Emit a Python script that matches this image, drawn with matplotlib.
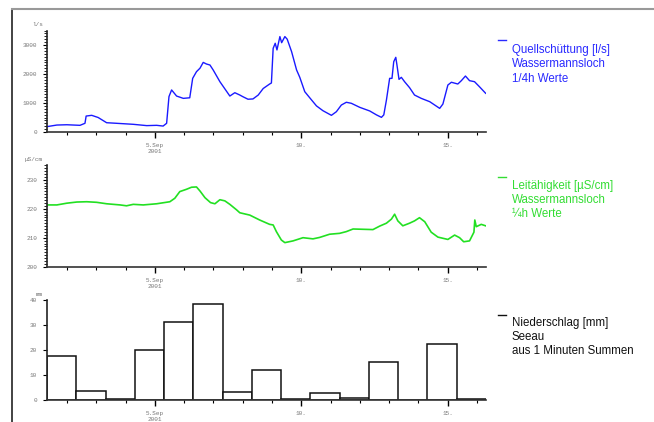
import numpy as np
import pandas as pd
import matplotlib
matplotlib.use("Agg")
import matplotlib.pyplot as plt
import matplotlib.dates as mdates
from matplotlib.lines import Line2D
from matplotlib.ticker import FixedLocator, FixedFormatter, MultipleLocator

# Quellschuettung Wassermannsloch [l/s], x = day of September 2001
q_day = [1.31, 1.65, 1.99, 2.44, 2.61, 2.65, 2.84, 3.06, 3.35, 3.69, 4.26, 4.72,
         5.06, 5.28, 5.40, 5.48, 5.57, 5.74, 5.97, 6.19, 6.29, 6.42, 6.54, 6.65,
         6.76, 6.88, 6.99, 7.22, 7.56, 7.73, 7.90, 8.00, 8.18, 8.35, 8.53, 8.70,
         8.92, 8.98, 9.04, 9.11, 9.17, 9.27, 9.33, 9.44, 9.52, 9.67, 9.84, 9.95,
         10.12, 10.29, 10.52, 10.74, 11.03, 11.20, 11.37, 11.54, 11.71, 12.00,
         12.34, 12.57, 12.74, 12.82, 12.91, 13.02, 13.10, 13.16, 13.23, 13.27,
         13.34, 13.42, 13.53, 13.70, 13.87, 14.10, 14.39, 14.73, 14.84, 15.01,
         15.13, 15.35, 15.47, 15.61, 15.75, 15.92, 16.09, 16.30]
q_val = [185, 240, 250, 230, 300, 550, 575, 500, 320, 300, 265, 220,
         230, 205, 300, 1220, 1450, 1240, 1160, 1180, 1850, 2080, 2200, 2400,
         2345, 2310, 2140, 1735, 1240, 1355, 1275, 1220, 1130, 1140, 1275, 1500,
         1655, 1690, 2885, 3060, 2830, 3290, 3080, 3290, 3200, 2770, 2140, 1885,
         1390, 1180, 900, 735, 575, 700,
         930, 1025, 990, 850,
         725, 590, 505, 590, 1100, 1850, 1850, 2425, 2575, 2310,
         1815, 1885, 1735, 1530, 1275, 1160, 1045, 815, 965, 1620,
         1715, 1655, 1770, 1930, 1770, 1735, 1560, 1335]

# Leitfaehigkeit Wassermannsloch [uS/cm]
lf_day = [1.31, 1.65, 1.99, 2.33, 2.67, 3.01, 3.35, 3.81, 4.03, 4.26, 4.60, 5.06,
          5.51, 5.68, 5.85, 6.08, 6.25, 6.42, 6.54, 6.71, 6.90, 7.05, 7.22, 7.39,
          7.56, 7.79, 7.90, 8.24, 8.58, 8.92, 9.04, 9.15, 9.32, 9.44, 9.72, 10.06,
          10.40, 10.63, 10.97, 11.31, 11.54, 11.77, 12.11, 12.45, 12.68, 12.91,
          13.08, 13.19, 13.30, 13.47, 13.70, 13.87, 14.04, 14.22, 14.44, 14.67,
          15.01, 15.24, 15.41, 15.55, 15.75, 15.90, 15.93, 15.98, 16.15, 16.30]
lf_val = [221.3, 221.3, 221.9, 222.3, 222.4, 222.2, 221.7, 221.3, 221.0, 221.5, 221.3, 221.7,
          222.4, 223.6, 225.9, 226.7, 227.4, 227.5, 226.1, 223.8, 222.1, 221.7, 223.1, 222.7,
          221.5, 219.6, 218.6, 217.8, 216.1, 214.6, 214.4, 212.1, 209.2, 208.3, 208.9, 210.0,
          209.6, 210.1, 211.2, 211.5, 212.1, 213.0, 212.9, 212.8, 214.0, 215.0,
          216.4, 218.1, 215.8, 214.1, 215.0, 215.8, 216.9, 215.5, 211.9, 210.2,
          209.4, 210.9, 210.0, 208.6, 208.9, 211.9, 216.1, 213.8, 214.6, 214.1]

# Niederschlag Seeau, Tagessummen [mm] (Tag ab 07:30)
rain_day = [1, 2, 3, 4, 5, 6, 7, 8, 9, 10, 11, 12, 13, 14, 15]
rain_mm = [17.8, 3.6, 0.3, 20.2, 31.4, 38.4, 3.3, 12.0, 0.6, 2.7, 0.9, 15.4, 0.2, 22.6, 0.5]

date_ticks = [5, 10, 15]
date_labels = ["5.Sep\n2001", "10.", "15."]

base = pd.Timestamp("2001-09-01")


def to_num(days):
    return mdates.date2num(base + pd.to_timedelta(np.asarray(days, dtype=float) - 1, unit="D"))


day_offset = 7.5 / 24
xmin, xmax = to_num([1 + day_offset, 16 + day_offset])

fig = plt.figure(figsize=(6.54, 4.22), dpi=100)
fig.patch.set_facecolor("white")

tick_font = dict(family="Liberation Mono", size=4.3, color="#777777")
leg_font = dict(family="Liberation Sans", size=8.3)


def style_axes(ax):
    for s in ("top", "right"):
        ax.spines[s].set_visible(False)
    ax.spines["left"].set_color("#222222")
    ax.spines["bottom"].set_color("#333333")
    ax.spines["left"].set_linewidth(1.2)
    ax.spines["bottom"].set_linewidth(1.2)
    ax.set_xlim(xmin, xmax)
    ax.xaxis.set_major_locator(FixedLocator(to_num(date_ticks)))
    ax.xaxis.set_major_formatter(FixedFormatter(date_labels))
    ax.xaxis.set_minor_locator(mdates.DayLocator())
    ax.tick_params(axis="x", which="major", length=4, width=1, direction="out", pad=4)
    ax.tick_params(axis="x", which="minor", length=2, width=0.8, direction="out")
    ax.tick_params(axis="y", which="major", length=3, width=0.8, direction="out", pad=4)
    ax.tick_params(axis="y", which="minor", length=2, width=0.6, direction="out")
    for lab in ax.get_xticklabels() + ax.get_yticklabels():
        lab.set_fontfamily(tick_font["family"])
        lab.set_fontsize(tick_font["size"])
        lab.set_color(tick_font["color"])
    ax.set_facecolor("none")


left, width = 47 / 654, 439 / 654

ax1 = fig.add_axes([left, 1 - 132 / 422, width, 101.5 / 422])
ax1.plot(to_num(q_day), q_val, color="#1a1aff", lw=1.0)
ax1.set_ylim(0, 3500)
ax1.set_yticks([0, 1000, 2000, 3000])
ax1.yaxis.set_minor_locator(MultipleLocator(100))
style_axes(ax1)

ax2 = fig.add_axes([left, 1 - 266.7 / 422, width, 101.5 / 422])
ax2.plot(to_num(lf_day), lf_val, color="#22e022", lw=1.2)
ax2.set_ylim(200, 235)
ax2.set_yticks([200, 210, 220, 230])
ax2.yaxis.set_minor_locator(MultipleLocator(1))
style_axes(ax2)

ax3 = fig.add_axes([left, 1 - 400 / 422, width, 100 / 422])
bar_left = to_num(np.array(rain_day) + day_offset)
ax3.bar(bar_left, rain_mm, width=1.0, align="edge", facecolor="white",
        edgecolor="#111111", linewidth=1.1)
ax3.set_ylim(0, 40)
ax3.set_yticks([0, 10, 20, 30, 40])
style_axes(ax3)

# units above the y axes
for ax, unit in ((ax1, "l/s"), (ax2, "µS/cm"), (ax3, "mm")):
    ax.annotate(unit, xy=(0, 1), xycoords="axes fraction", xytext=(-3, 2.5),
                textcoords="offset points", ha="right", va="bottom",
                fontfamily=tick_font["family"], fontsize=tick_font["size"], color=tick_font["color"])

# legend entries at the right
legends = [
    ("Quellschüttung [l/s]\nWassermannsloch\n1/4h Werte", "#2a2aff", 40, 44),
    ("Leitähigkeit [µS/cm]\nWassermannsloch\n¼h Werte", "#33dd33", 177, 180),
    ("Niederschlag [mm]\nSeeau\naus 1 Minuten Summen", "#111111", 315, 317),
]
for txt, col, dash_y, txt_y in legends:
    fig.add_artist(Line2D([498 / 654, 506 / 654], [1 - dash_y / 422] * 2, color=col, lw=1.0))
    fig.text(512 / 654, 1 - txt_y / 422, txt, color=col, ha="left", va="top",
             linespacing=1.25, **leg_font)

# outer frame lines
fig.add_artist(Line2D([12 / 654, 12 / 654], [1 - 9 / 422, 0], color="#222222", lw=1.2))
fig.add_artist(Line2D([12 / 654, 1], [1 - 9 / 422] * 2, color="#999999", lw=1.5))

fig.savefig("out.png", dpi=100, facecolor="white")
